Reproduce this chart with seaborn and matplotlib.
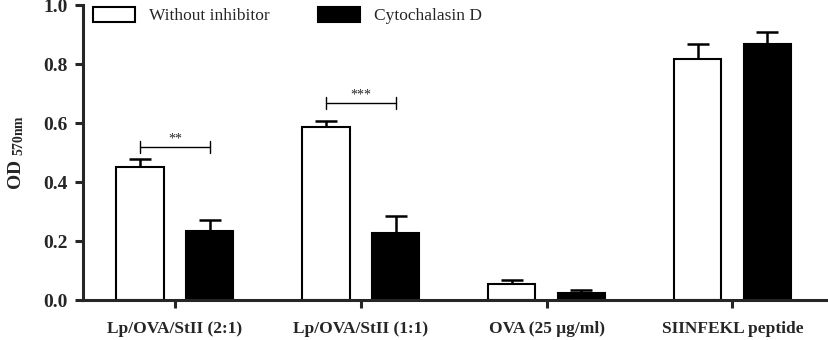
import pandas as pd
import seaborn as sns
import numpy as np
import matplotlib.pyplot as plt

groups = ["Lp/OVA/StII (2:1)", "Lp/OVA/StII (1:1)", "OVA (25 μg/ml)", "SIINFEKL peptide"]
treatments = ["Without inhibitor", "Cytochalasin D"]
od_without = [0.452, 0.585, 0.053, 0.817]
od_cyto = [0.234, 0.226, 0.023, 0.868]
sem_without = [0.027, 0.023, 0.015, 0.051]
sem_cyto = [0.037, 0.060, 0.011, 0.040]
sig_labels = ["**", "***"]
sig_heights = [0.52, 0.668]

df = pd.DataFrame({
    "group": groups * 2,
    "treatment": [treatments[0]] * 4 + [treatments[1]] * 4,
    "od": od_without + od_cyto,
})

sns.set_style("ticks")
plt.rcParams["font.family"] = ["Liberation Serif", "DejaVu Serif"]
plt.rcParams["mathtext.fontset"] = "custom"
plt.rcParams["mathtext.rm"] = "Liberation Serif:bold"
plt.rcParams["mathtext.it"] = "Liberation Serif:bold"

fig = plt.figure(figsize=(8.29, 3.4), dpi=100)
ax = fig.add_axes([0.1, 0.1176, 0.9, 0.8676])

sns.barplot(data=df, x="group", y="od", hue="treatment", hue_order=treatments,
            palette=["white", "black"], width=0.75, gap=0.32, errorbar=None,
            edgecolor="black", linewidth=1.5, ax=ax, zorder=2)

# error bars, upward only (drawn behind the bars)
sems = [sem_without, sem_cyto]
centers = []
for cont, err in zip(ax.containers, sems):
    xs = [p.get_x() + p.get_width() / 2 for p in cont.patches]
    ys = [p.get_height() for p in cont.patches]
    centers.append(xs)
    ax.errorbar(xs, ys, yerr=[np.zeros(len(err)), err], fmt="none",
                ecolor="black", elinewidth=1.8, capsize=8, capthick=1.8, zorder=1)

# significance brackets
for i, (lab, h) in enumerate(zip(sig_labels, sig_heights)):
    x0, x1 = centers[0][i], centers[1][i]
    ax.plot([x0, x1], [h, h], color="black", lw=1)
    ax.plot([x0, x0], [h - 0.02, h + 0.02], color="black", lw=1)
    ax.plot([x1, x1], [h - 0.02, h + 0.02], color="black", lw=1)
    ax.text((x0 + x1) / 2, h + 0.005, lab, ha="center", va="bottom", fontsize=10)

ax.set_ylim(0, 1.0)
ax.set_xlim(-0.495, 3.52)
ax.set_yticks([0, 0.2, 0.4, 0.6, 0.8, 1.0])
ax.set_yticklabels([f"{v:.1f}" for v in [0, 0.2, 0.4, 0.6, 0.8, 1.0]],
                   fontsize=14, fontweight="bold")
ax.set_xticks(range(4))
ax.set_xticklabels(groups, fontsize=12.5, fontweight="bold")
ax.set_xlabel("")
ax.set_ylabel(r"OD $_{\mathrm{570nm}}$", fontsize=14, fontweight="bold", labelpad=12)

for s in ["top", "right"]:
    ax.spines[s].set_visible(False)
for s in ["left", "bottom"]:
    ax.spines[s].set_linewidth(2.2)
ax.tick_params(axis="both", width=2.2, length=6, pad=5)
ax.tick_params(axis="x", pad=9)

ax.legend(loc="upper left", ncol=2, frameon=False, fontsize=12.5,
          bbox_to_anchor=(0.0, 1.03), handlelength=2.4, handleheight=1.0,
          columnspacing=2.8, borderaxespad=0.2)

fig.savefig("out.png", dpi=100)
